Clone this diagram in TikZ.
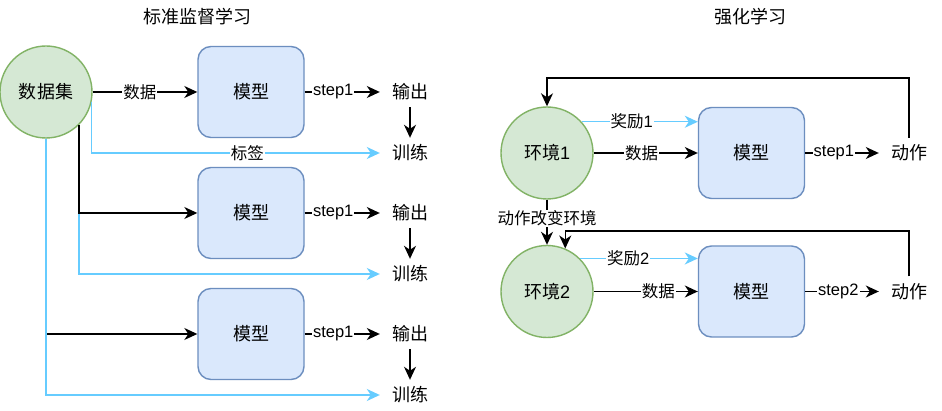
\documentclass[tikz,border=0pt]{standalone}
\usepackage{fontspec}
\setmainfont{Liberation Sans}
\newfontfamily\cjk{Noto Sans CJK SC}
\newfontfamily\lat{Liberation Sans}
\usetikzlibrary{arrows.meta}
\definecolor{greenF}{HTML}{D5E8D4}
\definecolor{greenS}{HTML}{82B366}
\definecolor{blueF}{HTML}{DAE8FC}
\definecolor{blueS}{HTML}{6C8EBF}
\definecolor{lblue}{HTML}{66CCFF}
\begin{document}
\begin{tikzpicture}[x=1pt,y=-1pt,
  every node/.style={font=\cjk\fontsize{18}{20}\selectfont},
  env/.style={circle, draw=greenS, fill=greenF, line width=1.4pt, minimum size=92pt, inner sep=0pt},
  model/.style={rectangle, rounded corners=13pt, draw=blueS, fill=blueF, line width=1.4pt, minimum width=106pt, minimum height=91pt, inner sep=0pt},
  txt/.style={minimum width=60pt, minimum height=30pt, inner sep=0pt},
  arr/.style={-{Stealth[length=13pt,width=12pt,inset=4pt]}, line width=1.5pt, draw=black},
  blu/.style={arr, draw=lblue},
  lab/.style={fill=white, inner sep=1pt, font=\cjk\fontsize{16.5}{18}\selectfont},
]
\fill[white] (0,0) rectangle (942,411);
\useasboundingbox (0,0) rectangle (942,411);

% ---------- left: supervised ----------
\node (t1) at (197,17) {标准监督学习};
\node[env] (ds) at (46,92) {数据集};
\node[model] (m1) at (251,92) {模型};
\node[model] (m2) at (251,213) {模型};
\node[model] (m3) at (251,334) {模型};
\node[txt] (o1) at (410,92) {输出};
\node[txt] (x1) at (410,153) {训练};
\node[txt] (o2) at (410,213) {输出};
\node[txt] (x2) at (410,274) {训练};
\node[txt] (o3) at (410,334) {输出};
\node[txt] (x3) at (410,395) {训练};

\draw[arr] (ds) -- node[lab,pos=.45]{数据} (m1);
\draw[arr] (m1) -- node[lab,pos=.38]{\lat step1} (o1);
\draw[arr] (m2) -- node[lab,pos=.38]{\lat step1} (o2);
\draw[arr] (m3) -- node[lab,pos=.38]{\lat step1} (o3);
\draw[arr] (o1) -- (x1);
\draw[arr] (o2) -- (x2);
\draw[arr] (o3) -- (x3);

\draw[arr] (ds.south) |- (m3);
\draw[blu] (ds.south) |- (x3);
\draw[blu] (ds.-45) |- (x2);
\draw[arr] (ds.-45) |- (m2);
\draw[blu] (ds.-12) |- node[lab,pos=.77]{标签} (x1);

% ---------- right: reinforcement ----------
\node (t2) at (750,17) {强化学习};
\node[env] (e1) at (547,153) {环境{\lat 1}};
\node[model] (r1) at (751.5,153) {模型};
\node[txt] (a1) at (909,153) {动作};
\node[env] (e2) at (547,291.5) {环境{\lat 2}};
\node[model] (r2) at (751.5,291.5) {模型};
\node[txt] (a2) at (909,291.5) {动作};

\draw[blu] (e1.42) -- node[lab,pos=.43]{奖励{\lat 1}} (e1.42 -| r1.west);
\draw[arr] (e1) -- node[lab,pos=.46]{数据} (r1);
\draw[arr] (r1) -- node[lab,pos=.39]{\lat step1} (a1);
\draw[arr] (a1.north) -- ++(0,-60) -| (e1.north);
\draw[arr] (e1) -- node[lab,pos=.42]{动作改变环境} (e2);

\draw[blu] (e2.45) -- node[lab,pos=.41]{奖励{\lat 2}} (e2.45 -| r2.west);
\draw[arr] (e2) -- node[lab,pos=.62]{数据} (r2);
\draw[arr] (r2) -- node[lab,pos=.45]{\lat step2} (a2);
\draw[arr] (a2.north) -- ++(0,-45.5) -| (e2.67);
\end{tikzpicture}
\end{document}
